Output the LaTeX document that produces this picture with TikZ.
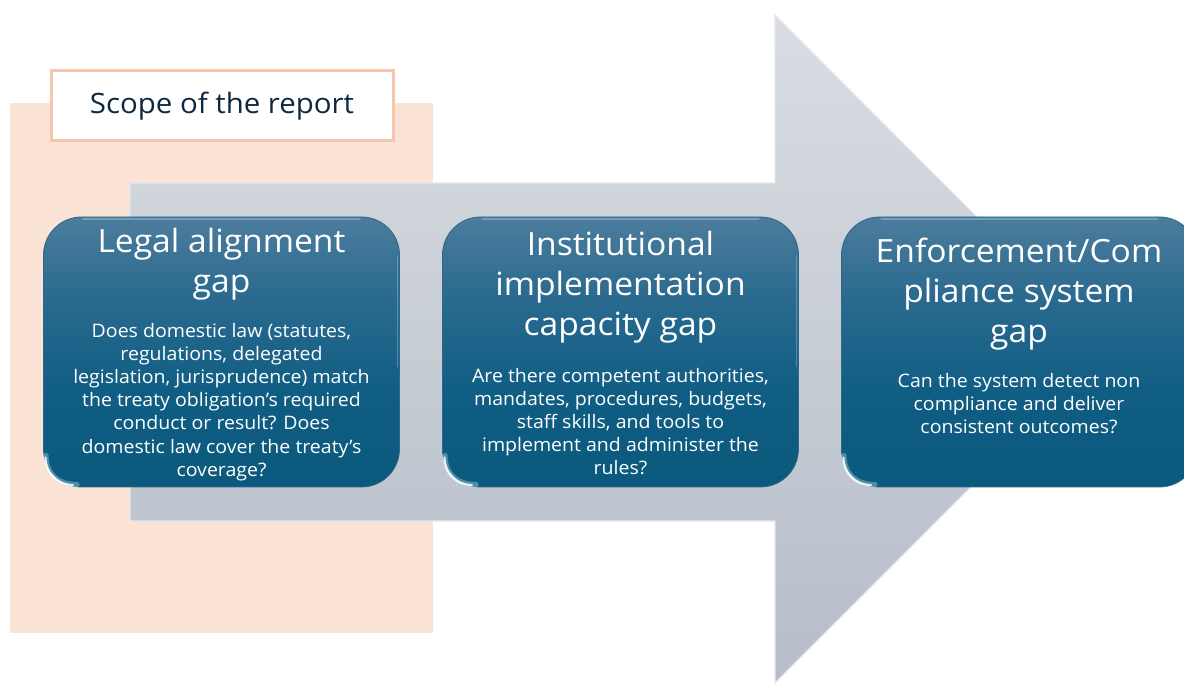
\documentclass[tikz,border=0pt]{standalone}
\usepackage{fontspec}
\setmainfont[FakeStretch=1.05]{Open Sans}
\usetikzlibrary{calc}

\definecolor{peach}{HTML}{FBE3D6}
\definecolor{peachedge}{HTML}{F6C7AE}
\definecolor{navytext}{HTML}{0E2841}
\definecolor{arrowtop}{HTML}{D9DDE3}
\definecolor{arrowbot}{HTML}{B6BDC7}
\definecolor{arrowedge}{HTML}{E6E9ED}
\definecolor{bxtop}{HTML}{4C7C9C}
\definecolor{bxmid}{HTML}{2A6A8F}
\definecolor{bxlow}{HTML}{0F5D83}
\definecolor{bxbot}{HTML}{0B597C}
\definecolor{bxedge}{HTML}{2F6689}
\definecolor{gloss}{HTML}{C8F2FF}

% vertical gradient of the gap boxes (path spans 25bp..75bp)
\pgfdeclareverticalshading{boxshade}{100bp}{%
  color(0bp)=(bxbot); color(25bp)=(bxbot); color(42bp)=(bxlow);
  color(60bp)=(bxmid); color(75bp)=(bxtop); color(100bp)=(bxtop)}

\tikzset{
  gapbox/.style={rectangle, rounded corners=38pt, minimum width=356pt,
    minimum height=270pt, shading=boxshade, draw=bxedge, line width=0.8pt},
  glosshalo/.style={draw=gloss, line width=5pt, line cap=round, opacity=0.35},
  glossline/.style={draw=white, line width=2pt, line cap=round, opacity=0.85},
  topgloss/.style={draw=gloss, line width=1.4pt, line cap=round, opacity=0.3},
  titletext/.style={anchor=north, align=center, inner sep=0pt, text=white,
    font=\fontsize{32}{40}\selectfont},
  bodytext/.style={anchor=north, align=center, inner sep=0pt, text=white,
    font=\fontsize{18.6}{23.2}\selectfont},
}

\begin{document}
\begin{tikzpicture}[x=1pt,y=-1pt]
\useasboundingbox (0,0) rectangle (1184,684);
\fill[white] (0,0) rectangle (1184,684);

% scope area and its label
\fill[peach] (10,103) rectangle (433,633);
\node[draw=peachedge, line width=3pt, fill=white, minimum width=342pt,
      minimum height=70pt, inner sep=0pt] (scope) at (222,106) {};
\node[anchor=base, text=navytext, font=\fontsize{28}{32}\selectfont]
      (scopelabel) at (222,114) {Scope of the report};

% big process arrow
\shade[top color=arrowtop, bottom color=arrowbot, draw=arrowedge, line width=1.2pt]
  (130,183) -- (775,183) -- (775,15) -- (1109,349) -- (775,683)
  -- (775,521) -- (130,521) -- cycle;

% the three gap boxes with their glossy rims
\foreach \name/\cx in {b1/221.5, b2/620.5, b3/1019.5} {
  \node[gapbox] (\name) at (\cx,352) {};
  \draw[glosshalo] ($(\name.south west)+(3,-32)$)
    .. controls ($(\name.south west)+(3,-14)$) and ($(\name.south west)+(14,-3)$)
    .. ($(\name.south west)+(34,-3)$);
  \draw[glossline] ($(\name.south west)+(2.5,-30)$)
    .. controls ($(\name.south west)+(2.5,-14)$) and ($(\name.south west)+(14,-2.5)$)
    .. ($(\name.south west)+(30,-2.5)$);
  \draw[topgloss] ($(\name.north west)+(40,2.5)$) -- ($(\name.north east)+(-40,2.5)$);
  \draw[topgloss] ($(\name.north east)+(-2.5,40)$) -- ($(\name.north east)+(-2.5,150)$);
}

% box texts
\node[titletext] (t1) at (221.5,222) {\rule{0pt}{30pt}Legal alignment\\gap};
\node[bodytext] (d1) at (221.5,317) {\rule{0pt}{20pt}Does domestic law (statutes,\\
  regulations, delegated\\legislation, jurisprudence) match\\
  the treaty obligation’s required\\conduct or result? Does\\
  domestic law cover the treaty’s\\coverage?};

\node[titletext] (t2) at (620.5,225) {\rule{0pt}{30pt}Institutional\\implementation\\capacity gap};
\node[bodytext] (d2) at (620.5,362) {\rule{0pt}{20pt}Are there competent authorities,\\
  mandates, procedures, budgets,\\staff skills, and tools to\\
  implement and administer the\\rules?};

\node[titletext] (t3) at (1019,232) {\rule{0pt}{30pt}Enforcement/Com\\pliance system\\gap};
\node[bodytext] (d3) at (1019,367) {\rule{0pt}{20pt}Can the system detect non\\
  compliance and deliver\\consistent outcomes?};
\end{tikzpicture}
\end{document}
